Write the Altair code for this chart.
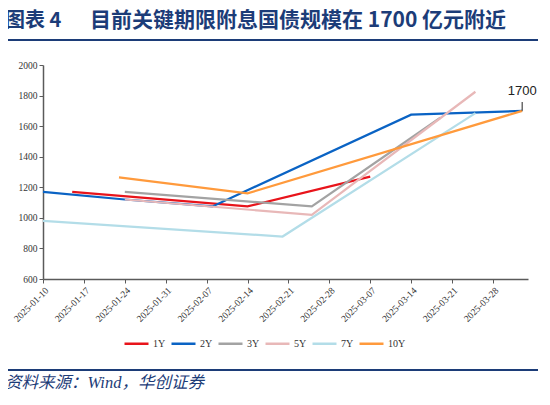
import altair as alt
import pandas as pd

# ---- data ----
series_names = ["1Y", "2Y", "3Y", "5Y", "7Y", "10Y"]
series_colors = ["#E8141B", "#0A63C4", "#A3A3A3", "#E8B8B8", "#B3DDE8", "#FF9A3C"]

dates_1y = ["2025-01-15", "2025-02-14", "2025-03-07"]
vals_1y = [1170, 1075, 1270]
dates_2y = ["2025-01-10", "2025-01-24", "2025-02-08", "2025-03-14", "2025-04-02"]
vals_2y = [1170, 1120, 1075, 1675, 1700]
dates_3y = ["2025-01-24", "2025-02-25", "2025-03-19"]
vals_3y = [1170, 1075, 1655]
dates_5y = ["2025-01-24", "2025-02-25", "2025-03-25"]
vals_5y = [1120, 1020, 1825]
dates_7y = ["2025-01-10", "2025-02-20", "2025-03-25"]
vals_7y = [980, 878, 1685]
dates_10y = ["2025-01-23", "2025-02-14", "2025-04-02"]
vals_10y = [1265, 1160, 1700]

tick_dates = ["2025-01-10", "2025-01-17", "2025-01-24", "2025-01-31", "2025-02-07",
              "2025-02-14", "2025-02-21", "2025-02-28", "2025-03-07", "2025-03-14",
              "2025-03-21", "2025-03-28"]
y_ticks = [600, 800, 1000, 1200, 1400, 1600, 1800, 2000]

annot_date = ["2025-04-02"]
annot_val = [1700]
annot_text = ["1700"]

title_a = "图表 4"
title_b = "目前关键期限附息国债规模在 1700 亿元附近"
footer = "资料来源：Wind，华创证券"

# ---- build table ----
rows = []
for name, ds, vs in zip(series_names,
                        [dates_1y, dates_2y, dates_3y, dates_5y, dates_7y, dates_10y],
                        [vals_1y, vals_2y, vals_3y, vals_5y, vals_7y, vals_10y]):
    for d, v in zip(ds, vs):
        rows.append({"series": name, "date": d, "value": v, "order": series_names.index(name)})
df = pd.DataFrame(rows)
annot = pd.DataFrame({"date": annot_date, "value": annot_val, "label": annot_text})


def dt(s):
    y, m, d = [int(p) for p in s.split("-")]
    return alt.DateTime(year=y, month=m, date=d, utc=True)


NAVY = "#1C3C78"
AXIS = "#5A5A5A"

x_scale = alt.Scale(type="utc", domain=[dt("2025-01-10"), dt("2025-04-03")])
y_scale = alt.Scale(domain=[600, 2000], nice=False, zero=False)

x_axis = alt.Axis(
    values=[dt(s) for s in tick_dates],
    format="%Y-%m-%d",
    labelAngle=-45,
    labelFont="Liberation Serif",
    labelFontSize=9.5,
    labelColor="#333333",
    domainColor=AXIS,
    domainWidth=1.5,
    tickColor=AXIS,
    tickWidth=1,
    tickSize=4,
    grid=False,
    title=None,
    labelPadding=2,
    labelOverlap=False,
)
y_axis = alt.Axis(
    values=y_ticks,
    format="d",
    labelOverlap=False,
    labelFont="Liberation Serif",
    labelFontSize=9.5,
    labelColor="#333333",
    domainColor=AXIS,
    domainWidth=1.5,
    tickColor=AXIS,
    tickWidth=1,
    tickSize=4,
    grid=False,
    title=None,
    labelPadding=2,
)

x_enc = alt.X("date:T", scale=x_scale, axis=x_axis)
y_enc = alt.Y("value:Q", scale=y_scale, axis=y_axis)

lines = alt.Chart(df).mark_line(strokeWidth=2.2, clip=False).encode(
    x=x_enc,
    y=y_enc,
    color=alt.Color(
        "series:N",
        scale=alt.Scale(domain=series_names, range=series_colors),
        legend=alt.Legend(
            title=None,
            orient="none",
            direction="horizontal",
            legendX=80,
            legendY=265,
            symbolType="stroke",
            symbolSize=576,
            symbolStrokeWidth=2.5,
            labelFont="Liberation Serif",
            labelFontSize=10,
            labelColor="#333333",
            labelOffset=3,
            columnPadding=0,
        ),
    ),
    order="order:Q",
)

annot_text_mark = alt.Chart(annot).mark_text(
    font="Liberation Sans", fontSize=13, baseline="bottom", align="center", dy=-13, color="#222222"
).encode(x=x_enc, y=y_enc, text="label:N")

annot_rule = alt.Chart(annot).mark_rule(color="#222222", strokeWidth=1).encode(
    x=x_enc, y=y_enc, y2=alt.value(37)
)

title_df = pd.DataFrame({"t": [title_a]})
title_df2 = pd.DataFrame({"t": [title_b]})
footer_df = pd.DataFrame({"t": [footer]})

t1 = alt.Chart(title_df).mark_text(
    font="Noto Sans CJK SC", fontSize=20, fontWeight="bold", color=NAVY, align="left", baseline="middle"
).encode(x=alt.value(-38), y=alt.value(-44), text="t:N")
t2 = alt.Chart(title_df2).mark_text(
    font="Noto Sans CJK SC", fontSize=21, fontWeight="bold", color=NAVY, align="left", baseline="middle"
).encode(x=alt.value(47), y=alt.value(-44), text="t:N")
top_line = alt.Chart(title_df).mark_rule(color=NAVY, strokeWidth=2.2).encode(
    x=alt.value(-40), x2=alt.value(505), y=alt.value(-25)
)
bottom_line = alt.Chart(title_df).mark_rule(color=NAVY, strokeWidth=2).encode(
    x=alt.value(-40), x2=alt.value(505), y=alt.value(305)
)
foot = alt.Chart(footer_df).mark_text(
    font="Liberation Serif, Noto Sans CJK SC", fontSize=16.5, fontStyle="italic", color=NAVY,
    align="left", baseline="middle"
).encode(x=alt.value(-38), y=alt.value(318), text="t:N")

chart = alt.layer(lines, annot_rule, annot_text_mark, t1, t2, top_line, bottom_line, foot).properties(
    width=485,
    height=214,
    padding={"left": 35, "top": 57, "right": 10, "bottom": 116},
    autosize=alt.AutoSizeParams(type="none"),
    background="white",
).configure_view(stroke=None)

chart.save("out.html", embed_options={"renderer": "svg", "actions": False})
